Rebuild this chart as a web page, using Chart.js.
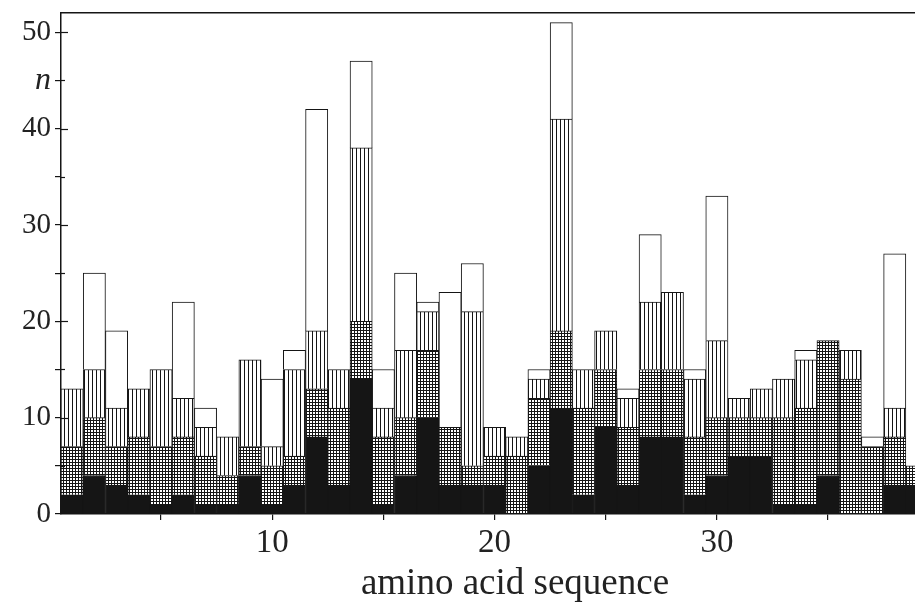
<!DOCTYPE html>
<html><head><meta charset="utf-8">
<script src="https://cdn.jsdelivr.net/npm/chart.js@4/dist/chart.umd.min.js"></script>
<style>html,body{margin:0;padding:0;background:#fff;overflow:hidden}#wrap{width:915px;height:603px;position:relative;overflow:hidden}</style>
</head><body><div id="wrap"><canvas id="c" width="969" height="603"></canvas></div>
<script>
// amino acid positions (categories)
const positions = [1,2,3,4,5,6,7,8,9,10,11,12,13,14,15,16,17,18,19,20,21,22,23,24,25,26,27,28,29,30,31,32,33,34,35,36,37,38,39];
// stacked segment counts, bottom to top
const solidSeg    = [2,4,3,2,1,2,1,1,4,1, 3,8,3,14,1,4,10,3,3,3, 0,5,11,2,9,3,8,8,2,4, 6,6,1,1,4,0,0,3,3];
const gridSeg     = [5,6,4,6,6,6,5,3,3,4, 3,5,8,6,7,6,7,6,2,3, 6,7,8,9,6,6,7,7,6,6, 4,4,9,10,14,14,7,5,2];
const stripeSeg   = [6,5,4,5,8,4,3,4,9,2, 9,6,4,18,3,7,4,0,16,3, 2,2,22,4,4,3,7,8,6,8, 2,3,4,5,0,3,0,3,0];
const openSeg     = [0,10,8,0,0,10,2,0,0,7, 2,23,0,9,4,8,1,14,5,0, 0,1,10,0,0,1,7,0,1,15, 0,0,0,1,0,0,1,16,0];
const yTickLabels = {0:'0',10:'10',20:'20',30:'30',40:'40',45:'n',50:'50'};
const xTickLabels = {10:'10',20:'20',30:'30'};

const INK = '#151515';
const canvas = document.getElementById('c');
const mainCtx = canvas.getContext('2d');
function gridPattern(){
  const c = document.createElement('canvas'); c.width = 3; c.height = 3;
  const g = c.getContext('2d');
  g.fillStyle = '#fff'; g.fillRect(0,0,3,3);
  g.fillStyle = INK; g.fillRect(0,0,3,1); g.fillRect(0,0,1,3);
  return mainCtx.createPattern(c,'repeat');
}
function stripePattern(){
  const c = document.createElement('canvas'); c.width = 4; c.height = 4;
  const g = c.getContext('2d');
  g.fillStyle = '#fff'; g.fillRect(0,0,4,4);
  g.fillStyle = INK; g.fillRect(0,0,1,4);
  return mainCtx.createPattern(c,'repeat');
}
const toPts = arr => arr.map((v,i) => ({x: positions[i], y: v}));
const common = {borderColor: INK, borderWidth: 1, barPercentage: 1, categoryPercentage: 1};

const innerTicks = {
  id: 'innerTicks',
  afterDatasetsDraw(chart){
    const y = chart.scales.y, ctx = chart.ctx, left = chart.chartArea.left;
    ctx.save(); ctx.strokeStyle = INK; ctx.lineWidth = 1.2;
    y.ticks.forEach(t => {
      if (t.value === 0) return;
      const py = Math.round(y.getPixelForValue(t.value)) + 0.5;
      const len = t.value % 10 === 0 ? 7 : 4;
      ctx.beginPath(); ctx.moveTo(left, py); ctx.lineTo(left + len, py); ctx.stroke();
    });
    ctx.restore();
  }
};
const noPad = s => { s.paddingTop = 0; s.paddingBottom = 0; s.paddingLeft = 0; s.paddingRight = 0; };

const serif = "'Liberation Serif','Times New Roman',serif";
new Chart(canvas, {
  type: 'bar',
  data: {
    datasets: [
      Object.assign({label:'a', data: toPts(solidSeg), backgroundColor: INK}, common),
      Object.assign({label:'b', data: toPts(gridSeg), backgroundColor: gridPattern()}, common),
      Object.assign({label:'c', data: toPts(stripeSeg), backgroundColor: stripePattern()}, common),
      Object.assign({label:'d', data: toPts(openSeg), backgroundColor: '#ffffff'}, common)
    ]
  },
  options: {
    responsive: false,
    devicePixelRatio: 1,
    animation: false,
    layout: {padding: {left: 0, top: 13, right: 0, bottom: 0}},
    plugins: {legend: {display: false}, tooltip: {enabled: false}},
    scales: {
      x: {
        type: 'linear', stacked: true, offset: false,
        min: 0.5, max: 41.34,
        afterFit: s => { s.height = 89; noPad(s); },
        grid: {display: true, drawOnChartArea: false, drawTicks: true, tickLength: 6, color: INK, lineWidth: 1.2, offset: false},
        border: {display: true, color: INK, width: 1.5},
        ticks: {stepSize: 5, includeBounds: false, autoSkip: false, maxRotation: 0, padding: 4,
          color: '#222', font: {family: serif, size: 33, lineHeight: 1.2},
          callback: v => xTickLabels[v] || ''},
        title: {display: true, text: 'amino acid sequence', color: '#222',
          font: {family: serif, size: 37, lineHeight: 1}, padding: {top: 0, bottom: 0}}
      },
      xTop: {
        type: 'linear', position: 'top', min: 0.5, max: 41.34,
        afterFit: s => { s.height = 0; noPad(s); },
        grid: {display: false, drawTicks: false},
        border: {display: true, color: INK, width: 1.5},
        ticks: {display: false}
      },
      y: {
        stacked: true, min: 0, max: 52,
        afterFit: s => { s.width = 61; noPad(s); },
        grid: {display: true, drawOnChartArea: false, drawTicks: true, tickLength: 6, color: INK, lineWidth: 1.2},
        border: {display: true, color: INK, width: 1.5},
        ticks: {stepSize: 5, includeBounds: false, autoSkip: false, padding: 4, color: '#222',
          font: ctx => (ctx.tick && ctx.tick.value === 45)
            ? {family: serif, size: 32, style: 'italic', lineHeight: 1.2}
            : {family: serif, size: 29, lineHeight: 1.2},
          callback: v => yTickLabels[v] || ''}
      }
    }
  },
  plugins: [innerTicks]
});
</script></body></html>
